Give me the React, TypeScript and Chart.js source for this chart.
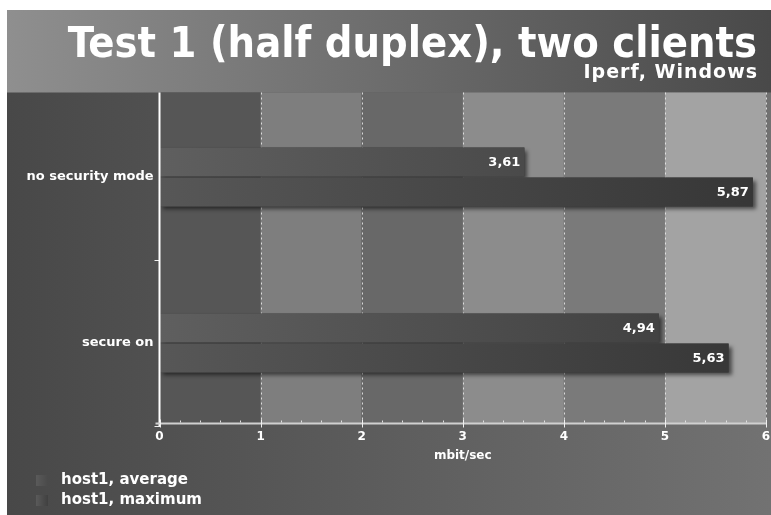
import { useEffect, useRef } from 'react';
import { Chart, registerables } from 'chart.js';

Chart.register(...registerables);

const categories = ['no security mode', 'secure on'];
const seriesNames = ['host1, average', 'host1, maximum'];
const averageValues = [3.61, 4.94];
const maximumValues = [5.87, 5.63];
const xMin = 0;
const xMax = 6;
const titleText = 'Test 1 (half duplex), two clients';
const subtitleText = 'Iperf, Windows';
const axisTitle = 'mbit/sec';

const TITLE_FONT = '"DejaVu Sans Condensed", "DejaVu Sans", sans-serif';
const FONT = '"DejaVu Sans", Verdana, sans-serif';

function fmt(v: number) {
  return v.toFixed(2).replace('.', ',');
}

export default function App() {
  const ref = useRef<HTMLCanvasElement>(null);

  useEffect(() => {
    const canvas = ref.current!;
    const bandColors = ['#565656', '#7e7e7e', '#686868', '#8c8c8c', '#7a7a7a', '#a3a3a3'];
    const barColors = [
      ['#5f5f5f', '#3c3c3c'],
      ['#575757', '#363636'],
    ];
    const swatchColors = ['#4a4a4a', '#404040'];

    const gradFor = (ctx: any, i: number) => {
      const chart = ctx.chart;
      const a = chart.chartArea;
      if (!a) return barColors[i][1];
      const g = chart.ctx.createLinearGradient(a.left, 0, a.right, 0);
      g.addColorStop(0, barColors[i][0]);
      g.addColorStop(1, barColors[i][1]);
      return g;
    };

    // plot frame: the drawn frame sits slightly above the category scale's range
    const frameTop = (a: any) => a.top - 1.5;
    const axisY = (a: any) => a.bottom - 2.5;

    const decor = {
      id: 'decor',
      beforeDraw(chart: any) {
        const { ctx, chartArea: a, width, height } = chart;
        const xs = chart.scales.x;
        ctx.save();
        let g = ctx.createLinearGradient(0, 0, width, 0);
        g.addColorStop(0, '#484848');
        g.addColorStop(1, '#727272');
        ctx.fillStyle = g;
        ctx.fillRect(0, 0, width, height);
        g = ctx.createLinearGradient(0, 0, width, 0);
        g.addColorStop(0, '#8f8f8f');
        g.addColorStop(1, '#494949');
        ctx.fillStyle = g;
        ctx.fillRect(0, 0, width, frameTop(a));
        const t = frameTop(a);
        const b = axisY(a);
        for (let i = xMin; i < xMax; i++) {
          const x0 = xs.getPixelForValue(i);
          const x1 = xs.getPixelForValue(i + 1);
          ctx.fillStyle = bandColors[i % bandColors.length];
          ctx.fillRect(x0, t, x1 - x0, b - t);
        }
        // dotted vertical grid lines
        ctx.strokeStyle = 'rgba(235,235,235,0.85)';
        ctx.lineWidth = 1;
        ctx.setLineDash([2, 3]);
        for (let i = xMin + 1; i <= xMax; i++) {
          const x = Math.round(xs.getPixelForValue(i)) + 0.5;
          ctx.beginPath();
          ctx.moveTo(x, t);
          ctx.lineTo(x, b);
          ctx.stroke();
        }
        ctx.restore();
      },
      beforeDatasetsDraw(chart: any) {
        const { ctx } = chart;
        ctx.save();
        ctx.shadowColor = 'rgba(0,0,0,0.55)';
        ctx.shadowBlur = 4;
        ctx.shadowOffsetX = 3;
        ctx.shadowOffsetY = 3;
        ctx.fillStyle = '#3a3a3a';
        chart.data.datasets.forEach((_: any, di: number) => {
          chart.getDatasetMeta(di).data.forEach((el: any) => {
            const p = el.getProps(['x', 'y', 'base', 'height'], true);
            ctx.fillRect(p.base, p.y - p.height / 2, p.x - p.base, p.height);
          });
        });
        ctx.restore();
      },
      afterDatasetsDraw(chart: any) {
        const { ctx } = chart;
        ctx.save();
        ctx.fillStyle = '#ffffff';
        ctx.font = `bold 13px ${FONT}`;
        ctx.textAlign = 'right';
        ctx.textBaseline = 'middle';
        chart.data.datasets.forEach((ds: any, di: number) => {
          chart.getDatasetMeta(di).data.forEach((el: any, i: number) => {
            const p = el.getProps(['x', 'y'], true);
            ctx.fillText(fmt(ds.data[i]), p.x - 4, p.y + 1);
          });
        });
        ctx.restore();
      },
      afterDraw(chart: any) {
        const { ctx, chartArea: a } = chart;
        const xs = chart.scales.x;
        const ay = axisY(a);
        ctx.save();
        // y axis line
        ctx.strokeStyle = '#ffffff';
        ctx.lineWidth = 2;
        ctx.beginPath();
        ctx.moveTo(a.left, frameTop(a));
        ctx.lineTo(a.left, a.bottom);
        ctx.stroke();
        // x axis line
        ctx.strokeStyle = '#d0d0d0';
        ctx.lineWidth = 2;
        ctx.beginPath();
        ctx.moveTo(a.left - 4, ay);
        ctx.lineTo(a.right + 1, ay);
        ctx.stroke();
        ctx.lineWidth = 1;
        for (let k = 0; k <= (xMax - xMin) * 5; k++) {
          const v = xMin + k / 5;
          const x = Math.round(xs.getPixelForValue(v)) + 0.5;
          ctx.beginPath();
          if (k % 5 === 0) {
            ctx.strokeStyle = '#f0f0f0';
            ctx.moveTo(x, ay - 4);
            ctx.lineTo(x, ay + 4);
          } else {
            ctx.strokeStyle = '#e0e0e0';
            ctx.moveTo(x, ay - 3);
            ctx.lineTo(x, ay - 1);
          }
          ctx.stroke();
        }
        // title
        ctx.fillStyle = '#ffffff';
        ctx.textAlign = 'right';
        ctx.textBaseline = 'alphabetic';
        ctx.font = `bold 43px ${TITLE_FONT}`;
        ctx.fillText(titleText, 750, 47);
        ctx.font = `bold 19px ${FONT}`;
        (ctx as any).letterSpacing = '1px';
        ctx.fillText(subtitleText, 751, 67.5);
        (ctx as any).letterSpacing = '0px';
        // legend
        ctx.textAlign = 'left';
        ctx.textBaseline = 'middle';
        ctx.font = `bold 15px ${FONT}`;
        seriesNames.forEach((name, i) => {
          const y = 470 + i * 20;
          const sg = ctx.createLinearGradient(29, 0, 41, 0);
          sg.addColorStop(0, '#5a5a5a');
          sg.addColorStop(1, swatchColors[i]);
          ctx.fillStyle = sg;
          ctx.fillRect(29, y - 5, 12, 11);
          ctx.fillStyle = '#ffffff';
          ctx.fillText(name, 54, y);
        });
        ctx.restore();
      },
    };

    const chart = new Chart(canvas, {
      type: 'bar',
      data: {
        labels: categories,
        datasets: [
          {
            label: seriesNames[0],
            data: averageValues,
            backgroundColor: (c: any) => gradFor(c, 0),
            borderWidth: 0,
            categoryPercentage: 0.362,
            barPercentage: 0.96,
          },
          {
            label: seriesNames[1],
            data: maximumValues,
            backgroundColor: (c: any) => gradFor(c, 1),
            borderWidth: 0,
            categoryPercentage: 0.362,
            barPercentage: 0.96,
          },
        ],
      },
      plugins: [decor],
      options: {
        indexAxis: 'y',
        responsive: false,
        animation: false,
        layout: { padding: { top: 84, right: 5, bottom: 52, left: 0 } },
        plugins: {
          legend: { display: false },
          title: { display: false },
          tooltip: { enabled: false },
        },
        scales: {
          x: {
            min: xMin,
            max: xMax,
            ticks: {
              stepSize: 1,
              color: '#ffffff',
              font: { family: FONT, weight: 'bold', size: 12 },
              padding: 4,
            },
            grid: { display: false, drawTicks: false },
            border: { display: false },
            title: {
              display: true,
              text: axisTitle,
              color: '#ffffff',
              font: { family: FONT, weight: 'bold', size: 12 },
              padding: { top: 4, bottom: 0 },
            },
            afterFit: (s: any) => {
              s.height = 37;
              s.paddingLeft = 0;
              s.paddingRight = 0;
            },
          },
          y: {
            ticks: {
              color: '#ffffff',
              font: { family: FONT, weight: 'bold', size: 13 },
              padding: 1,
            },
            grid: {
              offset: true,
              drawOnChartArea: false,
              drawTicks: true,
              tickLength: 5,
              tickColor: (c: any) => (c.index === 0 ? 'rgba(0,0,0,0)' : '#eeeeee'),
              tickWidth: 1,
            },
            border: { display: false },
            afterFit: (s: any) => {
              s.width = 152.5;
            },
          },
        },
      } as any,
    });
    return () => chart.destroy();
  }, []);

  return (
    <div style={{ position: 'absolute', left: 7, top: 10, width: 764, height: 505 }}>
      <canvas ref={ref} width={764} height={505} style={{ display: 'block', width: 764, height: 505 }} />
    </div>
  );
}
